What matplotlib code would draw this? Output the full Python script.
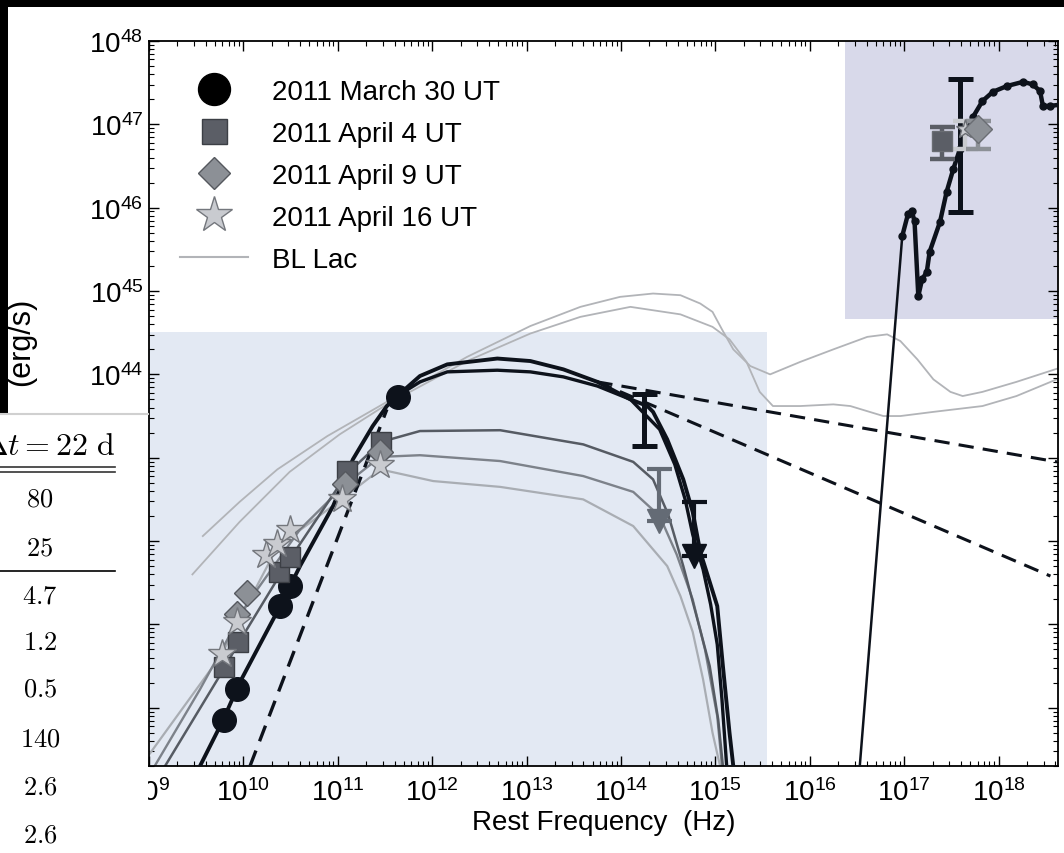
import numpy as np
import matplotlib.pyplot as plt
from matplotlib.patches import Rectangle
from matplotlib.lines import Line2D
from matplotlib.ticker import LogLocator, NullFormatter, FuncFormatter

plt.rcParams['font.family'] = ['Liberation Sans', 'DejaVu Sans']
plt.rcParams['mathtext.fontset'] = 'custom'
plt.rcParams['mathtext.rm'] = 'Liberation Sans'
plt.rcParams['mathtext.it'] = 'Liberation Sans:italic'
plt.rcParams['mathtext.bf'] = 'Liberation Sans:bold'

# all values are log10(nu / Hz) and log10(nu L_nu / erg s^-1)
mar30_nu = [9.79, 9.93, 10.39, 10.49, 11.64]
mar30_L = [39.85, 40.23, 41.22, 41.46, 43.73]
apr4_nu = [9.79, 9.94, 10.38, 10.49, 11.10, 11.46]
apr4_L = [40.49, 40.79, 41.63, 41.81, 42.84, 43.19]
apr9_nu = [9.93, 10.04, 11.08, 11.45]
apr9_L = [41.12, 41.38, 42.68, 43.07]
apr16_nu = [9.77, 9.93, 10.24, 10.36, 10.49, 11.04, 11.45]
apr16_L = [40.64, 41.03, 41.83, 41.97, 42.13, 42.50, 42.91]

# model curves
modelA_nu = [9.41, 9.54, 9.78, 9.96, 10.39, 10.60, 10.95, 11.16, 11.37, 11.52, 11.63, 11.87, 12.16,
             12.69, 13.04, 13.39, 13.75, 14.10, 14.28, 14.34, 14.49, 14.66, 14.76, 14.84, 14.94,
             15.02, 15.08, 15.15, 15.19, 15.20]
modelA_L = [39.0, 39.30, 39.84, 40.30, 41.22, 41.70, 42.42, 42.98, 43.38, 43.62, 43.74, 43.98, 44.12,
            44.19, 44.16, 44.06, 43.91, 43.70, 43.62, 43.55, 43.22, 42.74, 42.35, 41.87, 41.51,
            41.22, 40.50, 39.70, 39.30, 38.9]
modelB_nu = [11.63, 11.87, 12.16, 12.69, 13.04, 13.39, 13.75, 14.10, 14.41, 14.57, 14.68, 14.76,
             14.87, 14.95, 15.02, 15.07, 15.12, 15.13]
modelB_L = [43.74, 43.91, 44.03, 44.05, 44.03, 43.97, 43.86, 43.70, 43.34, 42.92, 42.50, 42.08,
            41.66, 41.24, 40.76, 40.10, 39.30, 38.9]
modelC_nu = [9.10, 9.17, 9.79, 9.94, 10.38, 10.49, 11.10, 11.46, 11.87, 12.72, 13.60, 14.13, 14.34,
             14.50, 14.66, 14.81, 14.94, 15.03, 15.08, 15.09]
modelC_L = [39.0, 39.30, 40.46, 40.76, 41.58, 41.78, 42.81, 43.19, 43.32, 43.33, 43.16, 42.95, 42.74,
            42.32, 41.70, 41.06, 40.50, 39.86, 39.30, 38.9]
modelD_nu = [9.0, 9.06, 9.54, 10.04, 10.60, 11.08, 11.45, 11.87, 12.72, 13.60, 14.13, 14.41, 14.59,
             14.76, 14.89, 15.02, 15.07, 15.08]
modelD_L = [39.1, 39.30, 40.22, 41.25, 42.14, 42.68, 43.01, 43.03, 42.96, 42.78, 42.59, 42.30, 41.84,
            41.30, 40.70, 39.90, 39.30, 38.9]
modelE_nu = [8.90, 9.77, 9.93, 10.36, 11.04, 11.45, 12.01, 12.72, 13.60, 14.13, 14.49, 14.63, 14.76,
             14.87, 14.97, 15.05, 15.06]
modelE_L = [39.28, 40.64, 41.00, 41.93, 42.50, 42.86, 42.72, 42.65, 42.50, 42.18, 41.70, 41.34,
            40.91, 40.34, 39.70, 39.30, 38.9]
# steep self-absorbed extrapolation and high-energy power laws
dash_low_nu = [9.97, 10.07, 11.52]
dash_low_L = [39.0, 39.30, 43.58]
dash_hi1_nu = [13.75, 18.62]
dash_hi1_L = [43.91, 42.95]
dash_hi2_nu = [13.75, 18.55]
dash_hi2_L = [43.91, 41.58]

# BL Lac template
bllac1_nu = [9.57, 9.96, 10.36, 10.89, 11.52, 12.37, 13.04, 13.57, 13.99, 14.34, 14.63, 14.84, 14.97,
             15.07, 15.19, 15.37, 15.58, 15.90, 16.25, 16.61, 16.82, 16.96, 17.14, 17.31, 17.49,
             17.62, 17.83, 18.19, 18.68]
bllac1_L = [42.06, 42.47, 42.86, 43.26, 43.67, 44.21, 44.58, 44.81, 44.93, 44.97, 44.95, 44.85, 44.75,
            44.54, 44.30, 44.10, 44.00, 44.15, 44.30, 44.45, 44.48, 44.40, 44.18, 43.94, 43.79,
            43.74, 43.79, 43.91, 44.09]
bllac2_nu = [9.46, 9.96, 10.49, 11.02, 11.52, 12.37, 13.04, 13.57, 14.10, 14.63, 14.97, 15.15, 15.33,
             15.47, 15.61, 15.90, 16.25, 16.43, 16.78, 16.96, 17.31, 17.83, 18.19, 18.68]
bllac2_L = [41.60, 42.23, 42.83, 43.28, 43.64, 44.16, 44.49, 44.69, 44.81, 44.72, 44.57, 44.42, 44.15,
            43.79, 43.62, 43.62, 43.64, 43.62, 43.50, 43.50, 43.55, 43.62, 43.74, 43.97]

# X-ray: steep rise (thin line) and the measured spectrum
xrise_nu = [16.51, 16.53, 16.98, 17.04]
xrise_L = [39.0, 39.30, 45.66, 45.92]
xray_nu = [16.98, 17.04, 17.08, 17.11, 17.15, 17.19, 17.24, 17.27, 17.38, 17.45, 17.52,
           17.59, 17.67, 17.73, 17.83, 17.94, 18.09, 18.26, 18.36, 18.44, 18.47, 18.54, 18.68]
xray_L = [45.66, 45.92, 45.96, 45.84, 44.94, 45.14, 45.23, 45.47, 45.83, 46.19, 46.46,
          46.70, 46.94, 47.09, 47.28, 47.39, 47.46, 47.51, 47.48, 47.40, 47.22, 47.22, 47.24]

# optical / X-ray bars: nu, low, high
opt_bar = (14.24, 43.14, 43.76)
xray_bar = (17.59, 45.95, 47.54)
xray_apr4 = (17.40, 46.80, 46.58, 46.97)
xray_apr16 = (17.64, 46.94, 46.70, 47.04)
xray_apr9 = (17.78, 46.94, 46.70, 47.04)
# upper limits: nu, cap, arrow
ulim_apr = (14.40, 42.86, 42.24)
ulim_mar = (14.77, 42.47, 41.82)

table_vals = ['80', '25', '4.7', '1.2', '0.5', '140', '2.6', '2.6']

c_mar = '#0d121b'
c_apr4 = '#5b5e66'
c_apr9 = '#8c9096'
c_apr16 = '#c9cbd0'
c_bl = '#b2b4b8'


def p(a):
    return 10 ** np.asarray(a)


fig = plt.figure(figsize=(10.64, 8.54), dpi=100)
ax = fig.add_axes([149 / 1064, 87 / 854, 909 / 1064, 725 / 854])
ax.set_xscale('log')
ax.set_yscale('log')
ax.set_xlim(1e9, 10 ** 18.63)
ax.set_ylim(2e39, 1e48)

# shaded bands
ax.add_patch(Rectangle((1e9, 1e39), 10 ** 15.55 - 1e9, 10 ** 44.51 - 1e39,
                       facecolor='#e3e9f3', edgecolor='none', zorder=0))
ax.add_patch(Rectangle((10 ** 16.37, 10 ** 44.66), 1e19, 1e49,
                       facecolor='#d8d9ea', edgecolor='none', zorder=0))

ax.plot(p(bllac1_nu), p(bllac1_L), color=c_bl, lw=1.3, zorder=1)
ax.plot(p(bllac2_nu), p(bllac2_L), color=c_bl, lw=1.3, zorder=1)

ax.plot(p(modelE_nu), p(modelE_L), color='#a9adb3', lw=1.6, zorder=2)
ax.plot(p(modelD_nu), p(modelD_L), color='#7d828a', lw=1.7, zorder=2)
ax.plot(p(modelC_nu), p(modelC_L), color='#565b63', lw=1.8, zorder=2)
ax.plot(p(modelB_nu), p(modelB_L), color=c_mar, lw=2.4, zorder=3)
ax.plot(p(modelA_nu), p(modelA_L), color=c_mar, lw=2.8, zorder=3)
ax.plot(p(dash_low_nu), p(dash_low_L), color=c_mar, lw=2.4, ls=(0, (5, 3)), zorder=3)
ax.plot(p(dash_hi1_nu), p(dash_hi1_L), color=c_mar, lw=2.2, ls=(0, (5, 3)), zorder=3)
ax.plot(p(dash_hi2_nu), p(dash_hi2_L), color=c_mar, lw=2.2, ls=(0, (5, 3)), zorder=3)

ax.plot(p(xrise_nu), p(xrise_L), color=c_mar, lw=1.8, zorder=3)
ax.plot(p(xray_nu), p(xray_L), color=c_mar, lw=3.2, marker='o', ms=5, zorder=3)


def bar(a, nu, lo, hi, color, lw, cap):
    mid = 10 ** ((lo + hi) / 2)
    a.errorbar([10 ** nu], [mid], yerr=[[mid - 10 ** lo], [10 ** hi - mid]], fmt='none',
               ecolor=color, elinewidth=lw, capsize=cap, capthick=lw, zorder=5)


bar(ax, *opt_bar, c_mar, 3.6, 9)
bar(ax, *xray_bar, c_mar, 3.6, 9)
for (nu, y, lo, hi), col, mk in [(xray_apr4, c_apr4, 's'), (xray_apr16, c_apr16, '*'),
                                 (xray_apr9, c_apr9, 'D')]:
    bar(ax, nu, lo, hi, col, 3.2, 9)
    ax.plot([10 ** nu], [10 ** y], marker=mk, ms=14, color=col, mec='#6a6d73', mew=1, zorder=6)

for (nu, cap, arr), col in [(ulim_apr, '#646b75'), (ulim_mar, c_mar)]:
    ax.errorbar([10 ** nu], [10 ** arr], yerr=[[0], [10 ** cap - 10 ** arr]], fmt='v', ms=17,
                color=col, ecolor=col, elinewidth=3.0, capsize=9, capthick=3.0, zorder=5)

ax.plot(p(mar30_nu), p(mar30_L), 'o', ms=17, color=c_mar, mec=c_mar, zorder=7)
ax.plot(p(apr4_nu), p(apr4_L), 's', ms=14, color=c_apr4, mec='#3c3f45', mew=1, zorder=8)
ax.plot(p(apr9_nu), p(apr9_L), 'D', ms=13, color=c_apr9, mec='#55585e', mew=1, zorder=9)
ax.plot(p(apr16_nu), p(apr16_L), '*', ms=21, color=c_apr16, mec='#74777d', mew=1, zorder=10)

handles = [
    Line2D([], [], ls='none', marker='o', ms=23, color='black'),
    Line2D([], [], ls='none', marker='s', ms=18, color=c_apr4, mec='#3c3f45'),
    Line2D([], [], ls='none', marker='D', ms=16, color=c_apr9, mec='#55585e'),
    Line2D([], [], ls='none', marker='*', ms=27, color=c_apr16, mec='#74777d'),
    Line2D([], [], color=c_bl, lw=1.5),
]
labels = ['2011 March 30 UT', '2011 April 4 UT', '2011 April 9 UT', '2011 April 16 UT', 'BL Lac']
ax.legend(handles, labels, loc='upper left', bbox_to_anchor=(0.034, 0.948), frameon=False,
          fontsize=20, handlelength=2.45, handletextpad=0.86, labelspacing=0.58,
          borderpad=0, borderaxespad=0)

ax.xaxis.set_major_locator(LogLocator(base=10, numticks=20))
ax.xaxis.set_minor_locator(LogLocator(base=10, subs=np.arange(2, 10), numticks=200))
ax.yaxis.set_major_locator(LogLocator(base=10, numticks=20))
ax.yaxis.set_minor_locator(LogLocator(base=10, subs=np.arange(2, 10), numticks=200))
ax.xaxis.set_minor_formatter(NullFormatter())
ax.yaxis.set_minor_formatter(NullFormatter())
# the lower y labels sit under the pasted table, so only the visible ones are written
ax.yaxis.set_major_formatter(FuncFormatter(
    lambda v, pos: r'$\mathdefault{10^{%d}}$' % round(np.log10(v)) if np.log10(v) > 43.5 else ''))
ax.tick_params(which='both', direction='in', top=True, right=True, labelsize=20)
ax.tick_params(which='major', length=7, width=1)
ax.tick_params(which='minor', length=3.5, width=0.8)
ax.tick_params(axis='x', pad=9)
ax.tick_params(axis='y', pad=4)
for s in ax.spines.values():
    s.set_linewidth(1.3)

ax.set_xlabel('Rest Frequency  (Hz)', fontsize=20, labelpad=2)
fig.text(21 / 1064, 1 - 298 / 854, '(erg/s)', rotation=90, ha='center', va='top', fontsize=22)

# screenshot surroundings: black frame and the overlapping table
fig.add_artist(Rectangle((0, 1 - 8 / 854), 1, 8 / 854, transform=fig.transFigure,
                         facecolor='black', edgecolor='none', zorder=20))
fig.add_artist(Rectangle((0, 1 - 415 / 854), 8 / 1064, 415 / 854, transform=fig.transFigure,
                         facecolor='black', edgecolor='none', zorder=20))
fig.add_artist(Rectangle((0, 0), 148 / 1064, 1 - 415 / 854, transform=fig.transFigure,
                         facecolor='white', edgecolor='none', zorder=20))
fig.add_artist(Line2D([0, 148 / 1064], [1 - 415 / 854] * 2, transform=fig.transFigure,
                      color='#d0d0d0', lw=1.5, zorder=21))
fig.text(115 / 1064, 1 - 447 / 854, r'$\Delta t = 22\ \mathrm{d}$', ha='right', va='center',
         fontsize=23, math_fontfamily='cm', zorder=22)
for yy in (468, 473):
    fig.add_artist(Line2D([0, 115 / 1064], [1 - yy / 854] * 2, transform=fig.transFigure,
                          color='#333333', lw=1.2, zorder=21))
fig.add_artist(Line2D([0, 115 / 1064], [1 - 572 / 854] * 2, transform=fig.transFigure,
                      color='black', lw=1.2, zorder=21))
for val, yy in zip(table_vals, [500, 548, 596, 643, 690, 740, 788, 836]):
    fig.text(40 / 1064, 1 - yy / 854, '$' + val + '$', ha='center', va='center', fontsize=19,
             math_fontfamily='cm', zorder=22)

fig.savefig('out.png', dpi=100)
